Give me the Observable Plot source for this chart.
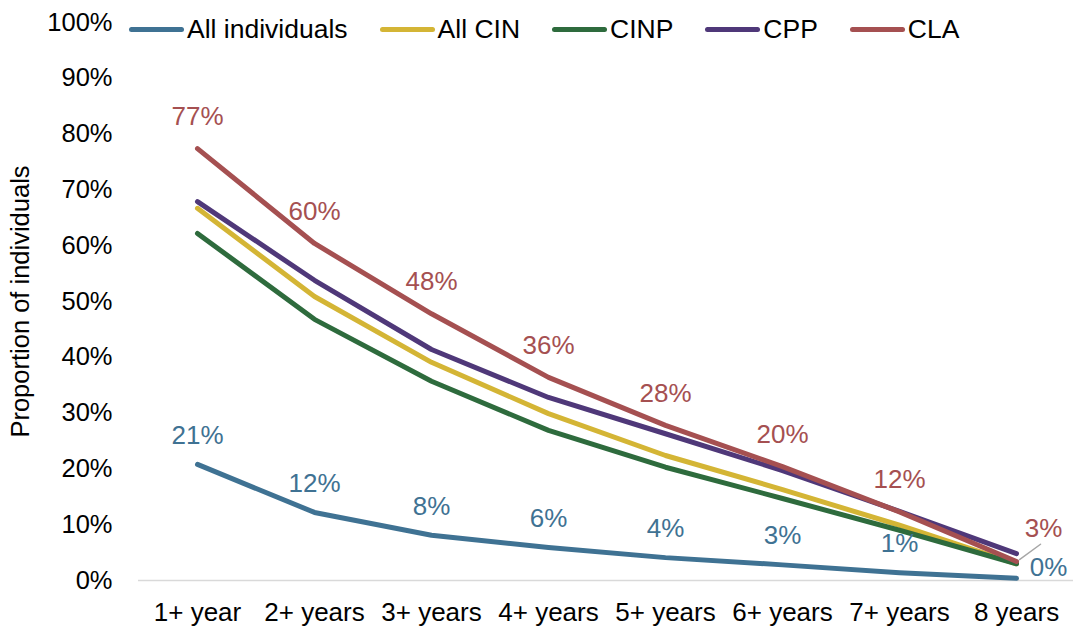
<!DOCTYPE html>
<html>
<head>
<meta charset="utf-8">
<script src="https://cdn.jsdelivr.net/npm/d3@7"></script>
<script src="https://cdn.jsdelivr.net/npm/@observablehq/plot@0.6"></script>
<style>
  body { margin: 0; background: #fff; font-family: "Liberation Sans", Arial, sans-serif; }
  #wrap { position: relative; width: 1073px; height: 627px; }
  #legend { position: absolute; left: 129px; top: 12px; height: 34px; display: flex; align-items: center; font-size: 26.5px; color: #000; }
  .item { display: flex; align-items: center; margin-right: 32px; }
  .sw { width: 55px; height: 5px; border-radius: 3px; margin-right: 3px; }
</style>
</head>
<body>
<div id="wrap"><div id="legend"></div></div>
<script>
const categories = ["1+ year", "2+ years", "3+ years", "4+ years", "5+ years", "6+ years", "7+ years", "8 years"];
const allIndividuals = [20.8, 12.2, 8.1, 5.9, 4.1, 2.8, 1.4, 0.4];
const allCIN = [66.7, 50.9, 39.1, 29.9, 22.4, 16.3, 9.9, 3.0];
const cinp = [62.2, 46.8, 35.7, 26.9, 20.3, 14.7, 9.0, 3.0];
const cpp = [67.9, 53.8, 41.4, 32.8, 26.3, 19.7, 12.4, 4.8];
const cla = [77.4, 60.4, 47.8, 36.4, 27.8, 20.4, 12.3, 3.4];
const seriesNames = ["All individuals", "All CIN", "CINP", "CPP", "CLA"];
const seriesColors = ["#3F7293", "#D4B535", "#2E6B3D", "#4F3879", "#A55051"];
const yTicks = [0, 10, 20, 30, 40, 50, 60, 70, 80, 90, 100];

const seriesValues = [allIndividuals, allCIN, cinp, cpp, cla];
const rows = [];
seriesNames.forEach((s, si) => {
  categories.forEach((c, i) => rows.push({series: s, cat: c, value: seriesValues[si][i], idx: i}));
});
const claRows = rows.filter(d => d.series === "CLA");
const allRows = rows.filter(d => d.series === "All individuals");
const last = categories.length - 1;
const fmt = d => Math.round(d.value) + "%";

const chart = Plot.plot({
  width: 1073,
  height: 627,
  marginLeft: 138,
  marginRight: 0,
  marginTop: 22,
  marginBottom: 47,
  style: {fontFamily: "Liberation Sans, Arial, sans-serif", background: "transparent"},
  x: {type: "point", domain: categories, range: [196, 1016], padding: 0},
  y: {domain: [0, 100]},
  color: {domain: seriesNames, range: seriesColors},
  marks: [
    Plot.ruleY([0], {stroke: "#d9d9d9", strokeWidth: 1.5}),
    Plot.axisY({ticks: yTicks, tickFormat: d => d + "%", tickSize: 0, tickPadding: 26, fontSize: 25.5, fill: "#000",
      label: "Proportion of individuals", labelAnchor: "center", labelArrow: "none", labelOffset: 128}),
    Plot.axisX({tickSize: 0, tickPadding: 22, fontSize: 26, fill: "#000", label: null}),
    Plot.line(rows, {x: "cat", y: "value", z: "series", stroke: "series", strokeWidth: 5, strokeLinecap: "round", strokeLinejoin: "round"}),
    Plot.text(claRows.filter(d => d.idx < last), {x: "cat", y: "value", text: fmt, dy: -32, fill: seriesColors[4], fontSize: 26}),
    Plot.text(allRows.filter(d => d.idx < last), {x: "cat", y: "value", text: fmt, dy: -29, fill: seriesColors[0], fontSize: 26}),
    Plot.text(claRows.filter(d => d.idx === last), {x: "cat", y: "value", text: fmt, dx: 27, dy: -33, fill: seriesColors[4], fontSize: 26}),
    Plot.text(allRows.filter(d => d.idx === last), {x: "cat", y: "value", text: fmt, dx: 32, dy: -11, fill: seriesColors[0], fontSize: 26}),
    Plot.vector(claRows.filter(d => d.idx === last), {x: "cat", y: "value", length: 26, rotate: 54, anchor: "start", dx: 3, dy: -2,
      stroke: "#a6a6a6", strokeWidth: 1.5,
      shape: {draw(context, l) { context.moveTo(0, 0); context.lineTo(0, -l); }}})
  ]
});
document.getElementById("wrap").prepend(chart);

const legend = document.getElementById("legend");
seriesNames.forEach((s, i) => {
  const item = document.createElement("div");
  item.className = "item";
  const sw = document.createElement("div");
  sw.className = "sw";
  sw.style.background = seriesColors[i];
  const t = document.createElement("span");
  t.textContent = s;
  item.appendChild(sw);
  item.appendChild(t);
  legend.appendChild(item);
});
</script>
</body>
</html>
